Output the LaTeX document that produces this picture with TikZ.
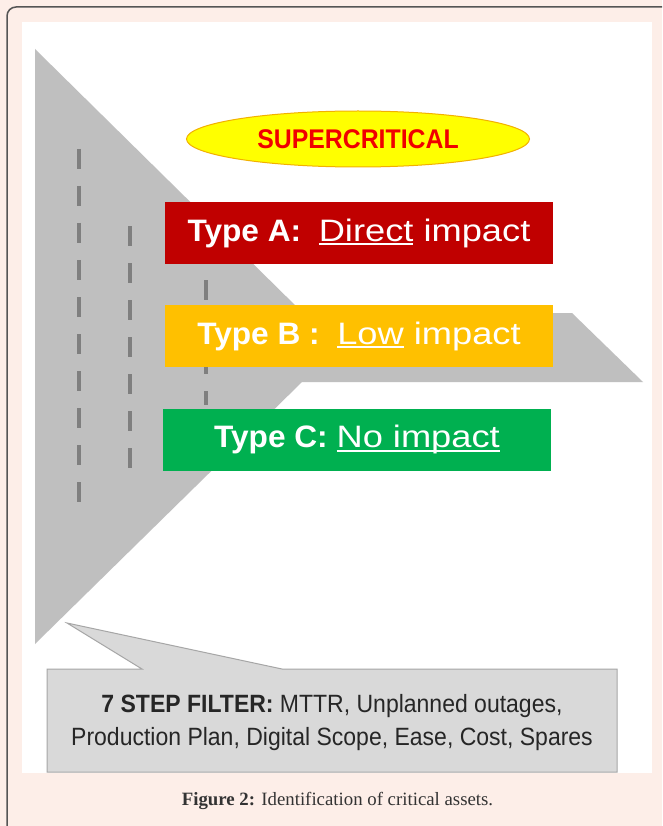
\documentclass[tikz,border=0pt]{standalone}
\usepackage{fontspec}
\setmainfont{Liberation Sans}[FakeStretch=1.02]
\newfontfamily\condfont[FakeStretch=0.92]{Liberation Sans}
\newfontfamily\widefont[FakeStretch=1.17]{Liberation Sans}
\newfontfamily\capfont{Liberation Serif}
\usetikzlibrary{shapes.geometric}

\definecolor{pagebg}{HTML}{FDEEE8}
\definecolor{framegray}{HTML}{555555}
\definecolor{funnelgray}{HTML}{BFBFBF}
\definecolor{dashgray}{HTML}{7F7F7F}
\definecolor{typeA}{HTML}{C00000}
\definecolor{typeB}{HTML}{FFC000}
\definecolor{typeC}{HTML}{00B050}
\definecolor{superfill}{HTML}{FFFF00}
\definecolor{superedge}{HTML}{F2B000}
\definecolor{supertext}{HTML}{F00000}
\definecolor{calloutfill}{HTML}{D9D9D9}
\definecolor{calloutedge}{HTML}{A6A6A6}
\definecolor{filtertext}{HTML}{262626}
\definecolor{captiontext}{HTML}{333333}

% underline kept close to the baseline
\newcommand\uln[1]{\setbox0=\hbox{#1}\rlap{\rule[-4pt]{\wd0}{1.8pt}}\box0\relax}

\begin{document}
\begin{tikzpicture}[x=1pt,y=-1pt,
  frame/.style={draw=framegray,line width=1.5pt,rounded corners=9pt},
  funnel/.style={fill=funnelgray},
  dashline/.style={draw=dashgray,line width=4pt,dash pattern=on 20pt off 17pt},
  super/.style={ellipse,draw=superedge,line width=1pt,fill=superfill,minimum width=343pt,minimum height=56pt,
    text=supertext,font=\condfont\bfseries\fontsize{27}{32}\selectfont},
  typebox/.style={rectangle,minimum width=388pt,minimum height=62pt,inner sep=0pt,text=white,
    font=\fontsize{31}{36}\selectfont},
  callout/.style={fill=calloutfill,draw=calloutedge,line width=1pt},
  filter/.style={align=center,text=filtertext,font=\condfont\fontsize{25}{33}\selectfont},
  caption/.style={text=captiontext,font=\capfont\fontsize{18.8}{22}\selectfont}
]
  \useasboundingbox (0,0) rectangle (662,826);
  \clip (0,0) rectangle (662,826);
  \fill[pagebg] (0,0) rectangle (662,826);
  \draw[frame] (680,7) -- (7,7) -- (7,845);
  \fill[white] (22,22) rectangle (652,773);

  % funnel with the arrow to the right
  \fill[funnel] (35,49) -- (303,313) -- (572,313) -- (643,382) -- (302,382) -- (35,644) -- cycle;
  \draw[dashline] (79,149) -- (79,503);
  \draw[dashline] (130,226) -- (130,468);
  \draw[dashline] (206,280) -- (206,405);

  \node[super] (super) at (358,139) {SUPERCRITICAL};
  \node[typebox,fill=typeA] (typeA) at (359,233)
    {\textbf{Type A:}\ \ {\widefont\uln{Direct} impact}};
  \node[typebox,fill=typeB] (typeB) at (359,336)
    {\textbf{Type B :}\ \ {\widefont\uln{Low} impact}};
  \node[typebox,fill=typeC] (typeC) at (357,439.5)
    {\textbf{Type C:}\ {\widefont\uln{No impact}}};

  \filldraw[callout] (47,669) -- (142,669) -- (67,623) -- (282,669) -- (617,669)
    -- (617,772) -- (47,772) -- cycle;
  \node[filter] (filter) at (332,723)
    {\textbf{7 STEP FILTER:} MTTR, Unplanned outages,\\Production Plan, Digital Scope, Ease, Cost, Spares};

  \node[caption] (caption) at (337.5,801) {\textbf{Figure 2:} Identification of critical assets.};
\end{tikzpicture}
\end{document}
